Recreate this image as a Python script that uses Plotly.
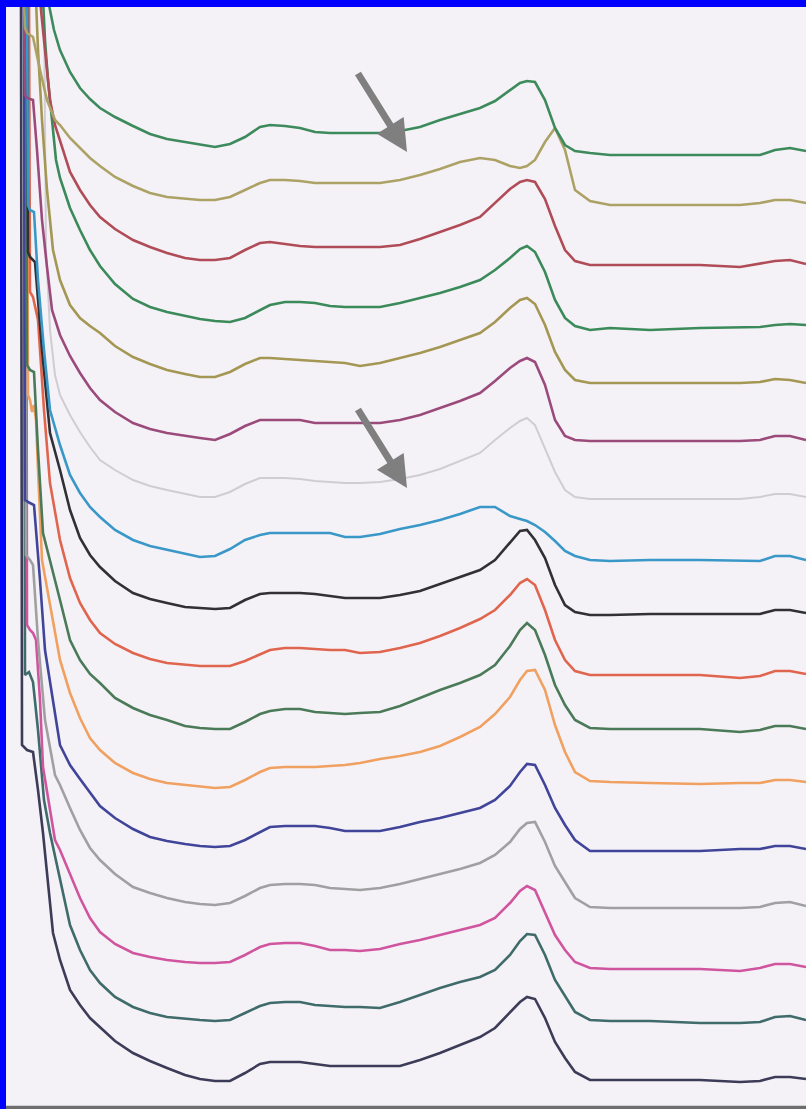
import plotly.graph_objects as go

# Shared wavelength-like positions for the body of each trace
X_GRID = [60, 70, 80, 90, 100, 115, 133, 150, 167, 185, 200, 215, 230, 245, 260, 270, 285, 300,
          315, 330, 345, 360, 380, 400, 420, 440, 460, 480, 495, 510, 520, 527, 535, 545, 555,
          565, 575, 590, 610, 650, 700, 740, 760, 775, 790, 806]

# ---- trace 1 (green) ----
head_x_01 = [48, 50, 54]
head_y_01 = [0, 10, 30]
body_y_01 = [50, 72, 88, 99, 108, 117, 126, 134, 139, 142, 144, 147, 144, 137, 127, 125, 126, 128,
             132, 133, 133, 133, 133, 131, 127, 120, 114, 108, 101, 90, 83, 81, 82, 100, 128,
             145, 151, 153, 155, 155, 155, 155, 155, 150, 148, 151]
# ---- trace 2 (olive) ----
head_x_02 = [24, 25, 27, 33, 40, 47, 55]
head_y_02 = [0, 28, 33, 37, 70, 100, 120]
body_y_02 = [125, 138, 148, 158, 166, 177, 186, 193, 197, 199, 200, 200, 197, 190, 183, 180, 180, 181,
             183, 183, 183, 183, 183, 180, 175, 169, 162, 158, 160, 166, 168, 166, 160, 142, 128,
             150, 190, 201, 205, 205, 205, 205, 203, 200, 200, 203]
# ---- trace 3 (red) ----
head_x_03 = [40, 42, 45, 50, 55]
head_y_03 = [0, 20, 50, 100, 125]
body_y_03 = [140, 172, 190, 205, 217, 229, 240, 247, 253, 258, 260, 260, 258, 250, 243, 242, 244, 246,
             247, 247, 247, 247, 247, 245, 239, 232, 225, 217, 203, 189, 182, 180, 182, 199, 226,
             250, 261, 265, 265, 265, 265, 267, 264, 261, 260, 264]
# ---- trace 4 (green) ----
head_x_04 = [43, 45, 48, 52, 56]
head_y_04 = [0, 40, 80, 120, 160]
body_y_04 = [178, 208, 230, 250, 266, 284, 299, 307, 312, 316, 319, 321, 322, 318, 310, 305, 302, 302,
             303, 306, 307, 307, 307, 303, 298, 293, 287, 280, 270, 258, 249, 246, 252, 272, 300,
             318, 326, 330, 328, 330, 328, 327, 327, 325, 324, 325]
# ---- trace 5 (olive) ----
head_x_05 = [36, 38, 42, 47, 53]
head_y_05 = [0, 50, 120, 190, 250]
body_y_05 = [280, 305, 318, 326, 333, 346, 357, 364, 370, 374, 377, 377, 372, 364, 358, 358, 359, 360,
             361, 362, 363, 366, 363, 358, 353, 347, 340, 333, 322, 308, 300, 298, 304, 325, 352,
             370, 380, 383, 383, 383, 383, 383, 382, 379, 380, 383]
# ---- trace 6 (purple) ----
head_x_06 = [24, 25, 27, 33, 37, 42, 47, 52]
head_y_06 = [0, 95, 98, 100, 150, 220, 267, 310]
body_y_06 = [335, 356, 373, 388, 400, 412, 423, 429, 433, 436, 438, 440, 434, 426, 420, 420, 420, 420,
             423, 423, 423, 423, 423, 420, 415, 408, 401, 393, 381, 368, 361, 358, 362, 385, 420,
             436, 440, 441, 441, 441, 441, 441, 440, 436, 436, 440]
# ---- trace 7 (light grey) ----
head_x_07 = [44, 46, 50, 55]
head_y_07 = [0, 250, 330, 375]
body_y_07 = [395, 415, 432, 447, 460, 470, 480, 486, 490, 494, 497, 497, 492, 484, 478, 478, 478, 479,
             481, 482, 483, 483, 482, 479, 475, 469, 461, 453, 440, 428, 421, 418, 425, 448, 472,
             490, 497, 499, 499, 499, 499, 499, 497, 494, 494, 497]
# ---- trace 8 (blue) ----
head_x_08 = [27, 28, 30, 34, 38, 44, 50]
head_y_08 = [0, 205, 210, 212, 280, 350, 410]
body_y_08 = [445, 475, 493, 507, 517, 530, 540, 546, 550, 554, 557, 556, 549, 540, 535, 533, 533, 533,
             533, 533, 537, 537, 534, 529, 525, 520, 514, 507, 507, 516, 519, 521, 525, 532, 541,
             551, 556, 560, 561, 560, 560, 561, 561, 556, 556, 560]
# ---- trace 9 (black) ----
head_x_09 = [27, 28, 30, 35, 42, 50]
head_y_09 = [0, 252, 257, 262, 350, 433]
body_y_09 = [470, 510, 538, 555, 567, 581, 593, 599, 603, 607, 608, 609, 608, 600, 594, 593, 593, 593,
             594, 596, 598, 598, 598, 595, 591, 584, 577, 570, 560, 543, 531, 530, 540, 558, 585,
             605, 612, 615, 615, 614, 614, 614, 614, 610, 610, 613]
# ---- trace 10 (red-orange) ----
head_x_10 = [29, 30, 33, 38, 44, 50]
head_y_10 = [0, 292, 297, 320, 410, 483]
body_y_10 = [540, 578, 603, 620, 633, 644, 653, 659, 663, 665, 666, 666, 666, 661, 654, 650, 648, 648,
             649, 650, 650, 653, 652, 648, 643, 636, 628, 619, 610, 595, 583, 579, 585, 610, 640,
             660, 671, 675, 675, 675, 675, 678, 676, 671, 671, 674]
# ---- trace 11 (dark green) ----
head_x_11 = [26, 27, 30, 34, 38, 43]
head_y_11 = [0, 365, 370, 372, 450, 533]
body_y_11 = [600, 640, 660, 674, 683, 698, 708, 715, 720, 726, 728, 729, 729, 722, 714, 711, 709, 709,
             712, 713, 714, 713, 712, 706, 698, 690, 683, 675, 665, 646, 630, 623, 630, 655, 685,
             705, 720, 728, 729, 729, 729, 732, 730, 726, 726, 729]
# ---- trace 12 (orange) ----
head_x_12 = [27, 28, 30, 32, 34, 36, 38, 42]
head_y_12 = [0, 395, 400, 412, 405, 420, 470, 560]
body_y_12 = [660, 693, 718, 738, 750, 763, 773, 779, 783, 785, 787, 788, 787, 780, 772, 768, 767, 767,
             767, 766, 765, 763, 759, 756, 752, 746, 737, 727, 714, 697, 680, 671, 670, 690, 725,
             752, 772, 781, 782, 783, 784, 783, 783, 780, 780, 782]
# ---- trace 13 (navy) ----
head_x_13 = [24, 25, 30, 34, 40, 45]
head_y_13 = [0, 500, 503, 505, 580, 650]
body_y_13 = [745, 765, 779, 793, 806, 818, 829, 837, 841, 844, 846, 847, 846, 840, 832, 827, 826, 826,
             826, 828, 831, 831, 831, 827, 822, 818, 813, 808, 800, 786, 772, 764, 765, 785, 808,
             825, 840, 851, 851, 851, 851, 849, 849, 846, 846, 849]
# ---- trace 14 (grey) ----
head_x_14 = [25, 26, 30, 33, 38, 45, 55]
head_y_14 = [0, 555, 560, 565, 640, 720, 775]
body_y_14 = [785, 808, 830, 848, 860, 874, 887, 893, 898, 902, 904, 905, 903, 896, 888, 885, 884, 884,
             885, 888, 889, 890, 888, 884, 879, 874, 869, 863, 855, 842, 829, 823, 822, 842, 866,
             882, 898, 907, 908, 908, 908, 908, 907, 903, 902, 906]
# ---- trace 15 (pink) ----
head_x_15 = [26, 27, 30, 33, 36, 40, 43, 55]
head_y_15 = [0, 625, 630, 633, 640, 700, 767, 840]
body_y_15 = [850, 875, 898, 918, 932, 944, 953, 957, 960, 962, 963, 963, 962, 955, 947, 944, 943, 943,
             946, 950, 950, 951, 949, 944, 940, 935, 930, 925, 918, 903, 891, 886, 890, 912, 935,
             950, 962, 968, 969, 969, 969, 971, 968, 964, 964, 967]
# ---- trace 16 (teal) ----
head_x_16 = [24, 25, 29, 33, 38, 44, 50]
head_y_16 = [0, 675, 672, 682, 730, 800, 833]
body_y_16 = [880, 925, 950, 970, 983, 997, 1007, 1013, 1017, 1019, 1020, 1021, 1020, 1013, 1006, 1003,
             1002, 1002, 1005, 1006, 1007, 1007, 1008, 1002, 995, 988, 982, 977, 970, 955, 941, 934,
             935, 955, 980, 996, 1012, 1020, 1021, 1021, 1023, 1023, 1022, 1017, 1016, 1020]
# ---- trace 17 (dark navy) ----
head_x_17 = [21, 22, 27, 33, 38, 43, 53]
head_y_17 = [0, 745, 750, 752, 790, 833, 933]
body_y_17 = [960, 990, 1005, 1018, 1027, 1041, 1053, 1061, 1068, 1075, 1079, 1081, 1081, 1073, 1064,
             1062, 1062, 1062, 1064, 1066, 1066, 1066, 1066, 1066, 1060, 1053, 1045, 1037, 1028, 1013,
             1002, 997, 999, 1018, 1042, 1058, 1072, 1080, 1080, 1080, 1080, 1082, 1081, 1077, 1077,
             1079]

COLORS = ["#3d8a5c", "#aca266", "#b04c58", "#3b8a5a", "#a39753", "#9b4b7b", "#cfcdd3", "#3a98c8",
          "#303035", "#e0654e", "#4a7a58", "#f0a060", "#40459a", "#a0a0a2", "#d0559f", "#3f6b6b",
          "#3c3c58"]
WIDTHS = [2.6, 2.6, 2.6, 2.6, 2.6, 2.6, 2.0, 2.6, 2.6, 2.6, 2.6, 2.6, 2.6, 2.6, 2.6, 2.6, 2.6]

HEADS_X = [head_x_01, head_x_02, head_x_03, head_x_04, head_x_05, head_x_06, head_x_07, head_x_08,
           head_x_09, head_x_10, head_x_11, head_x_12, head_x_13, head_x_14, head_x_15, head_x_16,
           head_x_17]
HEADS_Y = [head_y_01, head_y_02, head_y_03, head_y_04, head_y_05, head_y_06, head_y_07, head_y_08,
           head_y_09, head_y_10, head_y_11, head_y_12, head_y_13, head_y_14, head_y_15, head_y_16,
           head_y_17]
BODIES = [body_y_01, body_y_02, body_y_03, body_y_04, body_y_05, body_y_06, body_y_07, body_y_08,
          body_y_09, body_y_10, body_y_11, body_y_12, body_y_13, body_y_14, body_y_15, body_y_16,
          body_y_17]

fig = go.Figure()
# draw bottom traces first so upper ones sit on top at the crowded left edge
for i in reversed(range(17)):
    fig.add_trace(go.Scatter(
        x=HEADS_X[i] + X_GRID,
        y=HEADS_Y[i] + BODIES[i],
        mode="lines",
        line=dict(color=COLORS[i], width=WIDTHS[i]),
        showlegend=False,
        hoverinfo="skip",
    ))

# grey arrows
ARROWS = [((407, 152), (357, 72)), ((407, 488), (357, 408))]
for (hx, hy), (tx, ty) in ARROWS:
    fig.add_annotation(x=hx, y=hy, ax=tx, ay=ty, xref="x", yref="y", axref="x", ayref="y",
                       showarrow=True, arrowhead=2, arrowsize=0.9, arrowwidth=7,
                       arrowcolor="#7f7f80", text="")

# dark bottom edge line
fig.add_shape(type="rect", xref="paper", yref="paper", x0=0, x1=1, y0=0, y1=0.003,
              fillcolor="#6e6e70", line=dict(width=0), layer="above")

fig.update_layout(
    width=806, height=1109,
    margin=dict(l=6, r=0, t=7, b=0),
    paper_bgcolor="#0000ff",
    plot_bgcolor="#f5f2f7",
    xaxis=dict(range=[6, 806], visible=False, fixedrange=True),
    yaxis=dict(range=[1109, 7], visible=False, fixedrange=True),
)

fig.write_html(
    "out.html",
    config={"displayModeBar": False},
    post_script="document.body.style.margin='0';document.body.style.overflow='hidden';",
)
